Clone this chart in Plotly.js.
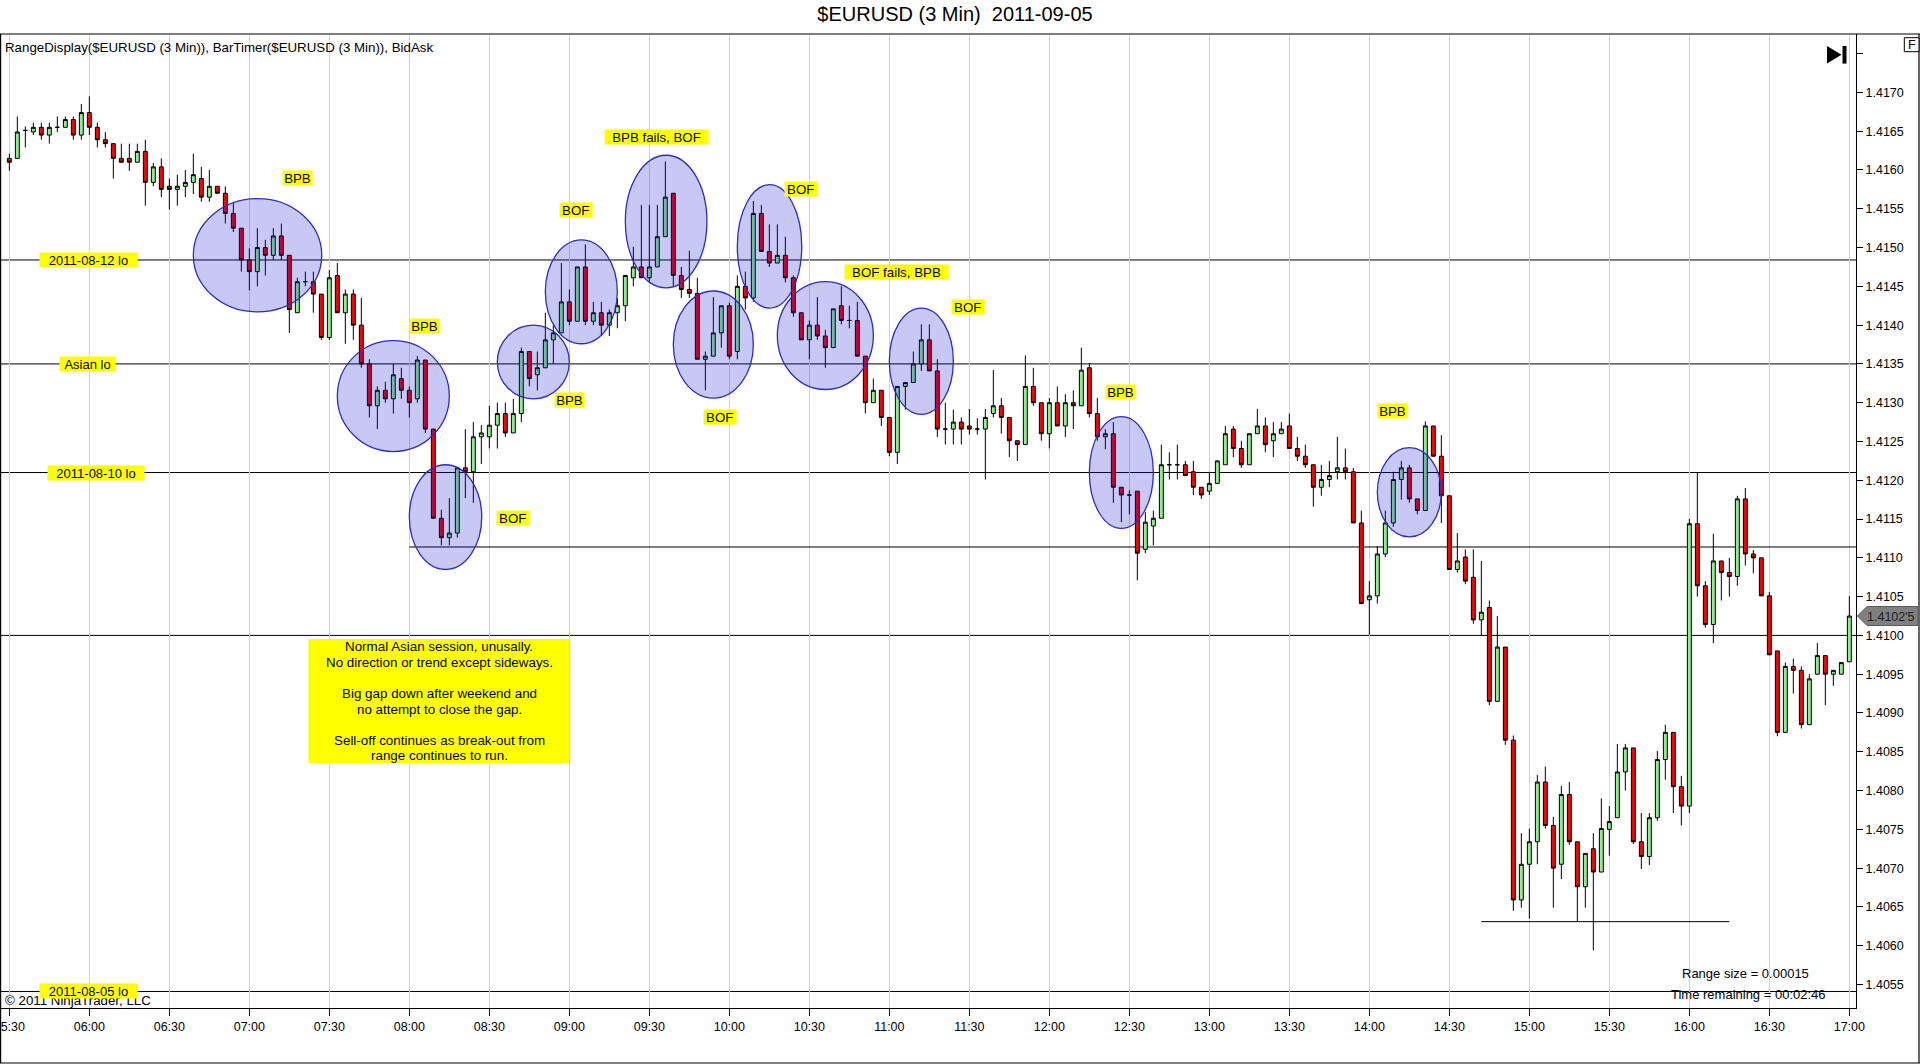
<!DOCTYPE html>
<html>
<head>
<meta charset="utf-8">
<script src="https://cdn.plot.ly/plotly-3.0.1.min.js"></script>
<style>html,body{margin:0;padding:0;background:#fff;overflow:hidden}</style>
</head>
<body>
<div id="chart" style="width:1920px;height:1064px"></div>
<script>
// ---- data (3-minute bars, 05:30 .. 17:00) ----
const open = [
1.41615,1.41615,1.41651,1.41649,1.41655,1.41645,1.41655,1.41655,1.41665,1.41645,
1.41674,1.41655,1.41639,1.41634,1.41615,1.41615,1.41610,1.41624,1.41584,1.41604,
1.41579,1.41575,1.41579,1.41584,1.41589,1.41565,1.41579,1.41570,1.41544,1.41525,
1.41484,1.41469,1.41500,1.41490,1.41515,1.41490,1.41416,1.41456,1.41456,1.41440,
1.41384,1.41464,1.41416,1.41440,1.41400,1.41350,1.41296,1.41316,1.41305,1.41331,
1.41316,1.41305,1.41355,1.41266,1.41151,1.41126,1.41132,1.41216,1.41211,1.41256,
1.41256,1.41271,1.41286,1.41261,1.41286,1.41366,1.41336,1.41345,1.41381,1.41390,
1.41430,1.41405,1.41475,1.41405,1.41416,1.41400,1.41416,1.41425,1.41461,1.41475,
1.41461,1.41475,1.41514,1.41570,1.41464,1.41446,1.41441,1.41356,1.41360,1.41390,
1.41425,1.41366,1.41450,1.41435,1.41544,1.41495,1.41480,1.41490,1.41461,1.41416,
1.41381,1.41400,1.41386,1.41371,1.41425,1.41406,1.41406,1.41360,1.41300,1.41316,
1.41281,1.41236,1.41321,1.41326,1.41350,1.41381,1.41341,1.41266,1.41266,1.41275,
1.41270,1.41266,1.41266,1.41286,1.41296,1.41281,1.41251,1.41246,1.41321,1.41300,
1.41260,1.41300,1.41270,1.41300,1.41296,1.41345,1.41286,1.41256,1.41260,1.41191,
1.41181,1.41186,1.41111,1.41141,1.41151,1.41220,1.41220,1.41220,1.41211,1.41191,
1.41186,1.41196,1.41220,1.41266,1.41241,1.41220,1.41260,1.41270,1.41251,1.41260,
1.41270,1.41241,1.41231,1.41220,1.41191,1.41201,1.41211,1.41216,1.41211,1.41145,
1.41046,1.41051,1.41105,1.41145,1.41201,1.41216,1.41176,1.41161,1.41270,1.41231,
1.41180,1.41085,1.41101,1.41075,1.41020,1.41036,1.40915,1.40985,1.40865,1.40659,
1.40705,1.40734,1.40811,1.40755,1.40705,1.40795,1.40734,1.40676,1.40725,1.40695,
1.40750,1.40765,1.40824,1.40855,1.40734,1.40715,1.40765,1.40840,1.40875,1.40805,
1.40780,1.41144,1.41064,1.41014,1.41096,1.41081,1.41076,1.41176,1.41105,1.41100,
1.41051,1.40980,1.40875,1.40960,1.40955,1.40885,1.40950,1.40974,1.40950,1.40950,
1.40966];
const high = [
1.41621,1.41669,1.41656,1.41661,1.41661,1.41661,1.41669,1.41669,1.41669,1.41685,
1.41695,1.41661,1.41649,1.41634,1.41634,1.41634,1.41634,1.41639,1.41609,1.41615,
1.41589,1.41594,1.41600,1.41621,1.41604,1.41600,1.41579,1.41579,1.41559,1.41525,
1.41499,1.41525,1.41510,1.41525,1.41531,1.41490,1.41461,1.41469,1.41469,1.41440,
1.41471,1.41480,1.41446,1.41446,1.41435,1.41356,1.41321,1.41327,1.41350,1.41345,
1.41321,1.41360,1.41355,1.41266,1.41162,1.41177,1.41216,1.41266,1.41275,1.41271,
1.41296,1.41300,1.41300,1.41305,1.41371,1.41366,1.41366,1.41416,1.41400,1.41480,
1.41446,1.41475,1.41504,1.41430,1.41430,1.41420,1.41435,1.41464,1.41501,1.41555,
1.41555,1.41555,1.41611,1.41570,1.41475,1.41496,1.41461,1.41366,1.41436,1.41425,
1.41429,1.41464,1.41469,1.41560,1.41555,1.41530,1.41530,1.41514,1.41464,1.41416,
1.41406,1.41436,1.41394,1.41421,1.41450,1.41425,1.41430,1.41360,1.41331,1.41316,
1.41281,1.41321,1.41326,1.41366,1.41401,1.41401,1.41356,1.41300,1.41291,1.41281,
1.41292,1.41280,1.41292,1.41342,1.41306,1.41281,1.41251,1.41361,1.41345,1.41300,
1.41306,1.41321,1.41311,1.41316,1.41371,1.41351,1.41306,1.41266,1.41275,1.41191,
1.41187,1.41186,1.41159,1.41161,1.41246,1.41236,1.41246,1.41225,1.41225,1.41191,
1.41211,1.41225,1.41270,1.41270,1.41251,1.41260,1.41292,1.41281,1.41275,1.41275,
1.41286,1.41256,1.41246,1.41220,1.41220,1.41225,1.41256,1.41241,1.41216,1.41161,
1.41070,1.41115,1.41161,1.41211,1.41225,1.41220,1.41176,1.41276,1.41270,1.41258,
1.41180,1.41132,1.41111,1.41111,1.41096,1.41045,1.41025,1.40985,1.40871,1.40745,
1.40751,1.40820,1.40831,1.40766,1.40806,1.40811,1.40734,1.40719,1.40745,1.40790,
1.40780,1.40860,1.40860,1.40855,1.40771,1.40771,1.40851,1.40885,1.40875,1.40819,
1.41150,1.41210,1.41070,1.41131,1.41096,1.41100,1.41180,1.41190,1.41110,1.41100,
1.41056,1.40980,1.40965,1.40970,1.40960,1.40950,1.40990,1.40974,1.40955,1.40965,
1.41051];
const low = [
1.41599,1.41615,1.41629,1.41645,1.41639,1.41634,1.41649,1.41655,1.41639,1.41639,
1.41645,1.41629,1.41629,1.41589,1.41610,1.41599,1.41610,1.41554,1.41579,1.41565,
1.41549,1.41554,1.41565,1.41569,1.41559,1.41559,1.41570,1.41531,1.41520,1.41469,
1.41445,1.41450,1.41464,1.41484,1.41484,1.41390,1.41416,1.41450,1.41416,1.41381,
1.41381,1.41416,1.41376,1.41381,1.41345,1.41281,1.41266,1.41300,1.41286,1.41305,
1.41281,1.41300,1.41261,1.41151,1.41116,1.41116,1.41126,1.41177,1.41171,1.41221,
1.41241,1.41241,1.41256,1.41261,1.41275,1.41321,1.41316,1.41345,1.41350,1.41390,
1.41400,1.41405,1.41400,1.41400,1.41386,1.41386,1.41396,1.41405,1.41450,1.41461,
1.41454,1.41475,1.41514,1.41450,1.41435,1.41435,1.41356,1.41316,1.41360,1.41371,
1.41356,1.41356,1.41420,1.41430,1.41495,1.41475,1.41480,1.41455,1.41411,1.41381,
1.41356,1.41381,1.41345,1.41371,1.41401,1.41396,1.41360,1.41286,1.41300,1.41270,
1.41231,1.41221,1.41291,1.41326,1.41341,1.41341,1.41256,1.41246,1.41246,1.41246,
1.41259,1.41259,1.41201,1.41281,1.41260,1.41230,1.41225,1.41246,1.41296,1.41251,
1.41241,1.41270,1.41256,1.41266,1.41296,1.41281,1.41251,1.41240,1.41171,1.41146,
1.41156,1.41071,1.41106,1.41116,1.41151,1.41201,1.41201,1.41206,1.41181,1.41176,
1.41181,1.41196,1.41220,1.41230,1.41216,1.41220,1.41260,1.41236,1.41230,1.41260,
1.41241,1.41225,1.41216,1.41166,1.41180,1.41191,1.41201,1.41201,1.41145,1.41041,
1.41001,1.41041,1.41101,1.41140,1.41175,1.41171,1.41156,1.41161,1.41231,1.41145,
1.41085,1.41081,1.41066,1.41015,1.41000,1.40910,1.40915,1.40859,1.40645,1.40649,
1.40635,1.40705,1.40751,1.40649,1.40686,1.40730,1.40631,1.40649,1.40594,1.40695,
1.40716,1.40765,1.40800,1.40731,1.40699,1.40704,1.40761,1.40814,1.40771,1.40755,
1.40771,1.41050,1.41010,1.40990,1.41045,1.41050,1.41064,1.41090,1.41080,1.41051,
1.40975,1.40870,1.40875,1.40925,1.40880,1.40885,1.40950,1.40910,1.40935,1.40950,
1.40966];
const close = [
1.41610,1.41649,1.41651,1.41655,1.41645,1.41655,1.41655,1.41665,1.41645,1.41674,
1.41655,1.41639,1.41634,1.41615,1.41610,1.41610,1.41624,1.41584,1.41604,1.41575,
1.41575,1.41579,1.41584,1.41594,1.41565,1.41579,1.41570,1.41544,1.41525,1.41484,
1.41469,1.41500,1.41490,1.41515,1.41490,1.41420,1.41456,1.41456,1.41440,1.41384,
1.41461,1.41416,1.41440,1.41400,1.41350,1.41296,1.41316,1.41305,1.41336,1.41316,
1.41300,1.41355,1.41266,1.41151,1.41126,1.41132,1.41216,1.41211,1.41256,1.41261,
1.41271,1.41286,1.41261,1.41286,1.41366,1.41331,1.41345,1.41381,1.41390,1.41430,
1.41405,1.41475,1.41405,1.41416,1.41400,1.41416,1.41425,1.41464,1.41475,1.41461,
1.41475,1.41514,1.41565,1.41464,1.41446,1.41441,1.41356,1.41360,1.41390,1.41425,
1.41360,1.41450,1.41435,1.41544,1.41495,1.41480,1.41490,1.41461,1.41416,1.41381,
1.41400,1.41386,1.41371,1.41421,1.41406,1.41406,1.41360,1.41300,1.41316,1.41281,
1.41236,1.41321,1.41326,1.41350,1.41381,1.41341,1.41266,1.41266,1.41275,1.41266,
1.41266,1.41266,1.41281,1.41296,1.41281,1.41251,1.41246,1.41321,1.41300,1.41260,
1.41300,1.41270,1.41300,1.41296,1.41342,1.41286,1.41256,1.41260,1.41191,1.41181,
1.41181,1.41106,1.41146,1.41151,1.41220,1.41220,1.41220,1.41206,1.41191,1.41181,
1.41196,1.41225,1.41260,1.41241,1.41220,1.41260,1.41270,1.41246,1.41260,1.41266,
1.41241,1.41231,1.41220,1.41191,1.41201,1.41206,1.41216,1.41211,1.41145,1.41041,
1.41051,1.41105,1.41145,1.41201,1.41216,1.41176,1.41161,1.41270,1.41231,1.41180,
1.41085,1.41096,1.41070,1.41020,1.41030,1.40915,1.40985,1.40865,1.40659,1.40705,
1.40734,1.40811,1.40755,1.40700,1.40795,1.40734,1.40676,1.40719,1.40695,1.40751,
1.40760,1.40824,1.40855,1.40734,1.40715,1.40765,1.40840,1.40875,1.40805,1.40780,
1.41144,1.41064,1.41014,1.41096,1.41081,1.41076,1.41176,1.41105,1.41100,1.41051,
1.40975,1.40875,1.40960,1.40955,1.40885,1.40944,1.40974,1.40950,1.40955,1.40965,
1.41025];

// x axis: bar number, labelled every 10 bars (30 min)
const tickLabels = ['05:30','06:00','06:30','07:00','07:30','08:00','08:30','09:00','09:30','10:00','10:30','11:00',
                    '11:30','12:00','12:30','13:00','13:30','14:00','14:30','15:00','15:30','16:00','16:30','17:00'];
const tickBars = [0,10,20,30,40,50,60,70,80,90,100,110,120,130,140,150,160,170,180,190,200,210,220,230];

// y axis labels
const yTickVals = [1.4055,1.4060,1.4065,1.4070,1.4075,1.4080,1.4085,1.4090,1.4095,1.4100,1.4105,1.4110,
                   1.4115,1.4120,1.4125,1.4130,1.4135,1.4140,1.4145,1.4150,1.4155,1.4160,1.4165,1.4170,1.4175];
const yTickText = ['1.4055','1.4060','1.4065','1.4070','1.4075','1.4080','1.4085','1.4090','1.4095','1.4100','1.4105','1.4110',
                   '1.4115','1.4120','1.4125','1.4130','1.4135','1.4140','1.4145','1.4150','1.4155','1.4160','1.4165','1.4170',''];
const gridPrices = [1.4055,1.4070,1.4085,1.4100,1.4115,1.4130,1.4145,1.4160,1.4175];

// horizontal levels
const levelNames  = ['2011-08-12 lo','Asian lo','2011-08-10 lo','2011-08-05 lo'];
const levelPrices = [1.41484,1.41350,1.41210,1.40541];
const levelLabelBar = [9.87,9.77,10.83,9.9];
const levelLabelW   = [97,55,96,97];
const sessionLine = {from:50, to:230.83, price:1.41114};
const lowLine = {from:184, to:215, price:1.40631};
const roundLevel = 1.4100;

// ellipses: bar range and price range
const ellX0 = [23.0,41.0,50.0,61.0,67.0,77.0,83.0,91.0,96.0,110.0,135.0,171.0];
const ellX1 = [39.05,55.0,59.05,70.0,76.0,87.2,93.0,99.05,108.0,118.0,143.0,179.0];
const ellY0 = [1.41417,1.41237,1.41085,1.41305,1.41376,1.41448,1.41306,1.41422,1.41317,1.41285,1.41138,1.41127];
const ellY1 = [1.41563,1.41380,1.41220,1.41400,1.41510,1.41619,1.41444,1.41581,1.41456,1.41422,1.41282,1.41242];

// setup labels
const sigText = ['BPB','BPB','BOF','BPB','BOF','BPB fails, BOF','BOF','BOF','BOF fails, BPB','BOF','BPB','BPB'];
const sigBar  = [35.96,51.9,70.8,69.96,62.9,80.9,98.9,88.8,110.9,119.8,138.9,172.9];
const sigPrice= [1.41590,1.41399,1.41549,1.41303,1.41152,1.41643,1.41575,1.41282,1.41469,1.41424,1.41314,1.41289];

const noteLines = ['Normal Asian session, unusally.','No direction or trend except sideways.',
                   'Big gap down after weekend and','no attempt to close the gap.',
                   'Sell-off continues as break-out from','range continues to run.'];
const noteLineY = [646.7,662.3,693.3,709,740,755.7];

// ---- geometry helpers (pixel -> paper) ----
const PL=0, PR=1856, PT=34, PB=1008;
const PX = px => (px-PL)/(PR-PL);
const PY = py => (PB-py)/(PB-PT);
const FONT = '"Liberation Sans", Arial, sans-serif';
const barsX = open.map((_, i) => i);
const xRange = [-1.1667, 230.833];
const yRange = [1.405197, 1.417753];

const trace = {
  type:'candlestick', x:barsX, open:open, high:high, low:low, close:close,
  increasing:{line:{color:'#000000',width:1}, fillcolor:'#90EE90'},
  decreasing:{line:{color:'#000000',width:1}, fillcolor:'#FF0000'},
  whiskerwidth:0, hoverinfo:'none', showlegend:false
};

const shapes = [];
const hline = (p, xref, x0, x1) => shapes.push({type:'line', xref:xref, yref:'y', x0:x0, x1:x1, y0:p, y1:p,
  line:{color:'#000', width:1}, layer:'between'});
levelPrices.forEach(p => hline(p, 'paper', 0, 1));
hline(roundLevel, 'paper', 0, 1);
hline(sessionLine.price, 'x', sessionLine.from, sessionLine.to);
hline(lowLine.price, 'x', lowLine.from, lowLine.to);
// ellipses
ellX0.forEach((x0,k) => shapes.push({type:'circle', xref:'x', yref:'y', x0:x0, x1:ellX1[k], y0:ellY0[k], y1:ellY1[k],
  fillcolor:'rgba(20,20,210,0.235)', line:{color:'rgb(45,45,190)', width:1.3}, layer:'above'}));
// note box
shapes.push({type:'rect', xref:'paper', yref:'paper', x0:PX(308.3), x1:PX(569.3), y0:PY(763.3), y1:PY(639),
  fillcolor:'#FFFF00', line:{width:0}, layer:'above'});
// frame
const frame = (x0,y0,x1,y1) => shapes.push({type:'line', xref:'paper', yref:'paper', x0:PX(x0), y0:PY(y0), x1:PX(x1), y1:PY(y1),
  line:{color:'#000', width:1.2}, layer:'above'});
frame(0,34,1920,34); frame(0.6,34,0.6,1063); frame(0,1063,1920,1063); frame(1919,34,1919,1063);
// last price marker
shapes.push({type:'path', xref:'paper', yref:'paper',
  path:`M ${PX(1857.5)},${PY(616)} L ${PX(1867)},${PY(606.5)} L ${PX(1918)},${PY(606.5)} L ${PX(1918)},${PY(625.5)} L ${PX(1867)},${PY(625.5)} Z`,
  fillcolor:'#808080', line:{color:'#5a5a5a', width:1}, layer:'above'});
// "go to last bar" icon
shapes.push({type:'path', xref:'paper', yref:'paper',
  path:`M ${PX(1827)},${PY(46)} L ${PX(1841.5)},${PY(54.8)} L ${PX(1827)},${PY(63.6)} Z`,
  fillcolor:'#000', line:{width:0}, layer:'above'});
shapes.push({type:'rect', xref:'paper', yref:'paper', x0:PX(1842.5), x1:PX(1846.5), y0:PY(63.6), y1:PY(46),
  fillcolor:'#000', line:{width:0}, layer:'above'});
// F box
shapes.push({type:'rect', xref:'paper', yref:'paper', x0:PX(1904.3), x1:PX(1919), y0:PY(51.7), y1:PY(37.7),
  fillcolor:'#fff', line:{color:'#000', width:1}, layer:'above'});

const annotations = [];
const txt = (text, px, py, opts={}) => annotations.push(Object.assign({
  text:text, xref:'paper', yref:'paper', x:PX(px), y:PY(py), showarrow:false,
  xanchor:'center', yanchor:'middle', font:{family:FONT, size:13.3, color:'#000'}}, opts));

txt('RangeDisplay($EURUSD (3 Min)), BarTimer($EURUSD (3 Min)), BidAsk', 3, 47.7, {xanchor:'left'});
txt('© 2011 NinjaTrader, LLC', 3, 1000.7, {xanchor:'left'});
txt('Range size = 0.00015', 1745.3, 973.3, {font:{family:FONT, size:13, color:'#000'}});
txt('Time remaining = 00:02:46', 1748.7, 994, {font:{family:FONT, size:13, color:'#000'}});
noteLines.forEach((t,k) => txt(t, 439, noteLineY[k], {font:{family:FONT, size:13.4, color:'#000'}}));
txt("1.4102'5", 1891, 616.5, {font:{family:FONT, size:12.5, color:'#1e1e1e'}});
txt('F', 1911.7, 44.7, {font:{family:FONT, size:12.5, color:'#000'}});

levelNames.forEach((t,k) => annotations.push({text:t, xref:'x', yref:'y', x:levelLabelBar[k], y:levelPrices[k],
  showarrow:false, xanchor:'center', yanchor:'middle', bgcolor:'#FFFF00', borderpad:0, width:levelLabelW[k], height:14,
  font:{family:FONT, size:13, color:'#000'}}));
sigText.forEach((t,k) => annotations.push({text:t, xref:'x', yref:'y', x:sigBar[k], y:sigPrice[k],
  showarrow:false, xanchor:'center', yanchor:'middle', bgcolor:'#FFFF00', borderpad:0,
  width: t.length > 4 ? 103 : (t === 'BOF' ? 31.5 : 29), height:14,
  font:{family:FONT, size:13.3, color:'#000'}}));

const layout = {
  width:1920, height:1064,
  margin:{l:PL, r:1920-PR, t:PT, b:1064-PB, pad:0},
  paper_bgcolor:'#fff', plot_bgcolor:'#fff', showlegend:false,
  title:{text:'$EURUSD (3 Min)  2011-09-05', x:955/1920, xanchor:'center', y:1-13.5/1064, yanchor:'middle',
         font:{family:FONT, size:20, color:'#000'}},
  xaxis:{range:xRange, type:'linear', tickmode:'array', tickvals:tickBars, ticktext:tickLabels,
         ticks:'outside', ticklen:7, tickcolor:'#000', tickwidth:1, ticklabeloverflow:'allow',
         showline:true, linecolor:'#000', linewidth:1, mirror:false,
         showgrid:true, gridcolor:'#d2d2d2', gridwidth:1, zeroline:false,
         tickfont:{family:FONT, size:12.5, color:'#000'}, rangeslider:{visible:false}, fixedrange:true},
  yaxis:{range:yRange, side:'right', tickmode:'array', tickvals:yTickVals, ticktext:yTickText,
         ticks:'outside', ticklen:6, tickcolor:'#000', showline:true, linecolor:'#000', linewidth:1,
         showgrid:false, zeroline:false, tickfont:{family:FONT, size:12.5, color:'#000'}, fixedrange:true},
  yaxis2:{range:yRange, overlaying:'y', anchor:'x', side:'right', tickmode:'array', tickvals:gridPrices,
          showticklabels:false, ticks:'', showline:false, showgrid:true, gridcolor:'#d2d2d2', gridwidth:1, zeroline:false, fixedrange:true},
  shapes:shapes, annotations:annotations
};

Plotly.newPlot('chart', [trace], layout, {staticPlot:true, displayModeBar:false});
</script>
</body>
</html>
